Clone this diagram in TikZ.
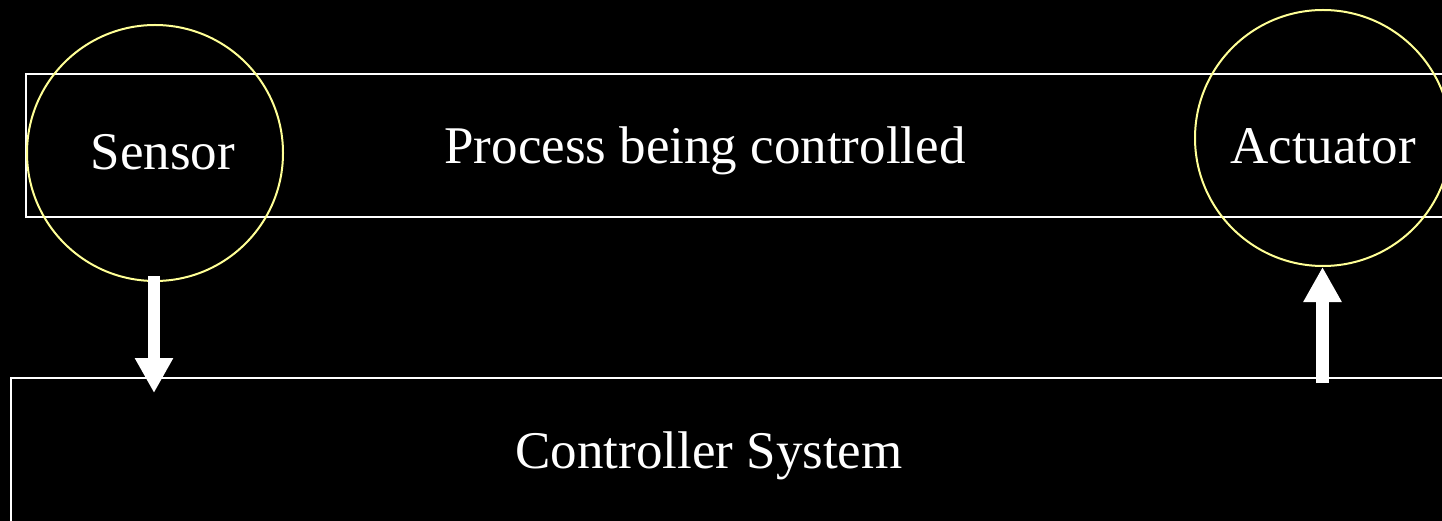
\documentclass[tikz,border=0pt]{standalone}
\usepackage{fontspec}
\setmainfont{Liberation Serif}
\usetikzlibrary{arrows.meta}
\definecolor{ringyellow}{RGB}{255,255,150}
\begin{document}
\begin{tikzpicture}[x=1pt,y=-1pt,
  box/.style={draw=white,line width=2pt},
  ring/.style={circle,draw=ringyellow,line width=2pt,minimum size=256pt,inner sep=0pt},
  lbl/.style={text=white,font=\fontsize{53}{60}\selectfont,anchor=base,inner sep=0pt},
  bigarrow/.style={white,line width=12.5pt,-{Triangle[width=36pt,length=35pt]}}]
  % canvas
  \useasboundingbox (0,0) rectangle (1442,521);
  \fill[black] (0,0) rectangle (1442,521);
  \clip (0,0) rectangle (1442,521);
  % process and controller blocks
  \draw[box] (26,74) rectangle (1470,217);
  \draw[box] (11,378) rectangle (1470,540);
  \coordinate (ctrltop) at (11,378);
  % sensor and actuator rings
  \node[ring] (sensor) at (155,153) {};
  \node[ring] (actuator) at (1323,138) {};
  % texts
  \node[lbl] (sensortxt) at (163,170) {Sensor};
  \node[lbl] (processtxt) at (705,164) {Process being controlled};
  \node[lbl] (actuatortxt) at (1323,164) {Actuator};
  \node[lbl] (ctrltxt) at (709,468) {Controller System};
  % signal arrows
  \coordinate (sensorout) at (154,276);
  \coordinate (ctrlin) at (154,393);
  \coordinate (ctrlout) at (1322.5,383);
  \coordinate (actin) at (1322.5,267);
  \draw[bigarrow] (sensorout) -- (ctrlin);
  \draw[bigarrow] (ctrlout) -- (actin);
\end{tikzpicture}
\end{document}
